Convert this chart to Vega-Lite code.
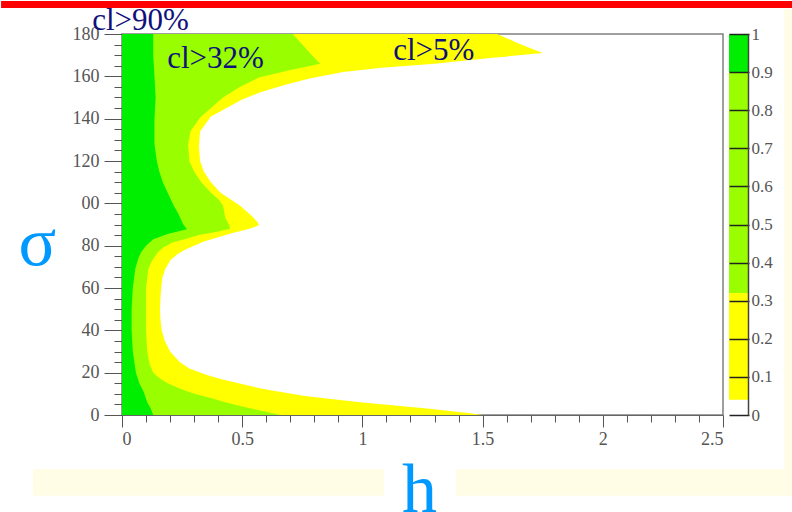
{
  "$schema": "https://vega.github.io/schema/vega-lite/v6.json",
  "padding": 0,
  "background": "white",
  "bounds": "flush",
  "spacing": 6,
  "config": {
    "view": {"stroke": "#808080", "strokeWidth": 1.5},
    "axis": {"labelFont": "Liberation Serif", "labelFontSize": 18, "labelColor": "#555555", "tickColor": "#555555", "domainColor": "#666666", "grid": false, "titleFont": "Liberation Serif", "titleFontWeight": "normal"}
  },
  "datasets": {
    "bounds": [
      {"cl":"cl>5%","sigma":0,"h":1.5},{"cl":"cl>5%","sigma":1,"h":1.44},{"cl":"cl>5%","sigma":3,"h":1.28},{"cl":"cl>5%","sigma":6,"h":0.99},{"cl":"cl>5%","sigma":9,"h":0.76},{"cl":"cl>5%","sigma":12,"h":0.6},{"cl":"cl>5%","sigma":14,"h":0.52},{"cl":"cl>5%","sigma":17,"h":0.41},{"cl":"cl>5%","sigma":19,"h":0.35},{"cl":"cl>5%","sigma":22,"h":0.28},{"cl":"cl>5%","sigma":25,"h":0.24},{"cl":"cl>5%","sigma":30,"h":0.2},{"cl":"cl>5%","sigma":35,"h":0.178},{"cl":"cl>5%","sigma":40,"h":0.165},{"cl":"cl>5%","sigma":45,"h":0.16},{"cl":"cl>5%","sigma":50,"h":0.158},{"cl":"cl>5%","sigma":55,"h":0.16},{"cl":"cl>5%","sigma":60,"h":0.163},{"cl":"cl>5%","sigma":65,"h":0.168},{"cl":"cl>5%","sigma":69,"h":0.18},{"cl":"cl>5%","sigma":73,"h":0.2},{"cl":"cl>5%","sigma":76,"h":0.23},{"cl":"cl>5%","sigma":78,"h":0.26},{"cl":"cl>5%","sigma":80,"h":0.3},{"cl":"cl>5%","sigma":82,"h":0.34},{"cl":"cl>5%","sigma":84,"h":0.4},{"cl":"cl>5%","sigma":86,"h":0.46},{"cl":"cl>5%","sigma":88,"h":0.53},{"cl":"cl>5%","sigma":89.6,"h":0.57},{"cl":"cl>5%","sigma":91,"h":0.565},{"cl":"cl>5%","sigma":94,"h":0.54},{"cl":"cl>5%","sigma":99,"h":0.49},{"cl":"cl>5%","sigma":105,"h":0.41},{"cl":"cl>5%","sigma":110,"h":0.37},{"cl":"cl>5%","sigma":115,"h":0.34},{"cl":"cl>5%","sigma":120,"h":0.325},{"cl":"cl>5%","sigma":127,"h":0.32},{"cl":"cl>5%","sigma":134,"h":0.325},{"cl":"cl>5%","sigma":141,"h":0.37},{"cl":"cl>5%","sigma":146,"h":0.45},{"cl":"cl>5%","sigma":149,"h":0.5},{"cl":"cl>5%","sigma":152.5,"h":0.575},{"cl":"cl>5%","sigma":156,"h":0.68},{"cl":"cl>5%","sigma":159,"h":0.78},{"cl":"cl>5%","sigma":162,"h":0.92},{"cl":"cl>5%","sigma":164,"h":1.08},{"cl":"cl>5%","sigma":166,"h":1.3},{"cl":"cl>5%","sigma":168.5,"h":1.52},{"cl":"cl>5%","sigma":171,"h":1.75},{"cl":"cl>5%","sigma":175,"h":1.66},{"cl":"cl>5%","sigma":180,"h":1.56},
      {"cl":"cl>32%","sigma":0,"h":0.66},{"cl":"cl>32%","sigma":2,"h":0.58},{"cl":"cl>32%","sigma":4,"h":0.5},{"cl":"cl>32%","sigma":6,"h":0.43},{"cl":"cl>32%","sigma":8,"h":0.37},{"cl":"cl>32%","sigma":10,"h":0.3},{"cl":"cl>32%","sigma":12.5,"h":0.24},{"cl":"cl>32%","sigma":15,"h":0.19},{"cl":"cl>32%","sigma":17.5,"h":0.155},{"cl":"cl>32%","sigma":20,"h":0.13},{"cl":"cl>32%","sigma":24,"h":0.115},{"cl":"cl>32%","sigma":30,"h":0.105},{"cl":"cl>32%","sigma":40,"h":0.1},{"cl":"cl>32%","sigma":50,"h":0.1},{"cl":"cl>32%","sigma":60,"h":0.1},{"cl":"cl>32%","sigma":65,"h":0.105},{"cl":"cl>32%","sigma":69,"h":0.11},{"cl":"cl>32%","sigma":73,"h":0.125},{"cl":"cl>32%","sigma":77,"h":0.15},{"cl":"cl>32%","sigma":79,"h":0.17},{"cl":"cl>32%","sigma":81.5,"h":0.21},{"cl":"cl>32%","sigma":83,"h":0.26},{"cl":"cl>32%","sigma":85,"h":0.32},{"cl":"cl>32%","sigma":86.5,"h":0.39},{"cl":"cl>32%","sigma":88,"h":0.45},{"cl":"cl>32%","sigma":90,"h":0.445},{"cl":"cl>32%","sigma":93,"h":0.43},{"cl":"cl>32%","sigma":99,"h":0.42},{"cl":"cl>32%","sigma":102,"h":0.4},{"cl":"cl>32%","sigma":105,"h":0.37},{"cl":"cl>32%","sigma":110,"h":0.33},{"cl":"cl>32%","sigma":115,"h":0.3},{"cl":"cl>32%","sigma":120,"h":0.28},{"cl":"cl>32%","sigma":128,"h":0.275},{"cl":"cl>32%","sigma":134,"h":0.285},{"cl":"cl>32%","sigma":140.5,"h":0.325},{"cl":"cl>32%","sigma":145,"h":0.37},{"cl":"cl>32%","sigma":150,"h":0.42},{"cl":"cl>32%","sigma":155,"h":0.49},{"cl":"cl>32%","sigma":159.5,"h":0.57},{"cl":"cl>32%","sigma":163,"h":0.7},{"cl":"cl>32%","sigma":166,"h":0.825},{"cl":"cl>32%","sigma":170,"h":0.79},{"cl":"cl>32%","sigma":175,"h":0.75},{"cl":"cl>32%","sigma":180,"h":0.71},
      {"cl":"cl>90%","sigma":0,"h":0.13},{"cl":"cl>90%","sigma":3,"h":0.12},{"cl":"cl>90%","sigma":6,"h":0.105},{"cl":"cl>90%","sigma":11,"h":0.09},{"cl":"cl>90%","sigma":15,"h":0.072},{"cl":"cl>90%","sigma":20,"h":0.058},{"cl":"cl>90%","sigma":30,"h":0.045},{"cl":"cl>90%","sigma":40,"h":0.04},{"cl":"cl>90%","sigma":50,"h":0.04},{"cl":"cl>90%","sigma":60,"h":0.045},{"cl":"cl>90%","sigma":69,"h":0.055},{"cl":"cl>90%","sigma":74,"h":0.068},{"cl":"cl>90%","sigma":77,"h":0.08},{"cl":"cl>90%","sigma":80,"h":0.1},{"cl":"cl>90%","sigma":83,"h":0.13},{"cl":"cl>90%","sigma":85.5,"h":0.19},{"cl":"cl>90%","sigma":87.7,"h":0.27},{"cl":"cl>90%","sigma":90,"h":0.255},{"cl":"cl>90%","sigma":95,"h":0.235},{"cl":"cl>90%","sigma":99,"h":0.215},{"cl":"cl>90%","sigma":105,"h":0.19},{"cl":"cl>90%","sigma":110,"h":0.17},{"cl":"cl>90%","sigma":115,"h":0.155},{"cl":"cl>90%","sigma":120,"h":0.145},{"cl":"cl>90%","sigma":128,"h":0.135},{"cl":"cl>90%","sigma":140,"h":0.135},{"cl":"cl>90%","sigma":150,"h":0.14},{"cl":"cl>90%","sigma":160,"h":0.135},{"cl":"cl>90%","sigma":170,"h":0.13},{"cl":"cl>90%","sigma":180,"h":0.13}
    ],
    "labels": [
      {"label": "cl>90%", "h": -0.124, "sigma": 181.9},
      {"label": "cl>32%", "h": 0.188, "sigma": 163.9},
      {"label": "cl>5%", "h": 1.128, "sigma": 167.7}
    ],
    "bar": [
      {"band": "cl>5%", "lo": 0.04, "hi": 0.32},
      {"band": "cl>32%", "lo": 0.32, "hi": 0.9},
      {"band": "cl>90%", "lo": 0.9, "hi": 1}
    ]
  },
  "hconcat": [
    {
      "width": 601,
      "height": 381,
      "resolve": {"axis": {"x": "independent", "y": "independent"}},
      "layer": [
        {
          "layer": [
            {
              "data": {"values": [{}]},
              "mark": {"type": "rect", "color": "#fffde6"},
              "encoding": {
                "x": {"datum": -0.37, "type": "quantitative", "scale": {"domain": [0, 2.5], "nice": false}},
                "x2": {"datum": 1.09},
                "y": {"datum": -25.5, "type": "quantitative", "scale": {"domain": [0, 180], "nice": false}},
                "y2": {"datum": -38.2}
              }
            },
            {
              "data": {"values": [{}]},
              "mark": {"type": "rect", "color": "#fffde6"},
              "encoding": {
                "x": {"datum": 1.389, "type": "quantitative"},
                "x2": {"datum": 2.79},
                "y": {"datum": -25.5, "type": "quantitative"},
                "y2": {"datum": -38.2}
              }
            },
            {
              "data": {"values": [{}]},
              "mark": {"type": "rect", "color": "#fffde6"},
              "encoding": {
                "x": {"datum": 2.754, "type": "quantitative"},
                "x2": {"datum": 2.79},
                "y": {"datum": 191.8, "type": "quantitative"},
                "y2": {"datum": -25.5}
              }
            },
            {
              "data": {"values": [{}]},
              "mark": {"type": "rect", "color": "#ff0000"},
              "encoding": {
                "x": {"datum": -0.503, "type": "quantitative"},
                "x2": {"datum": 2.79},
                "y": {"datum": 192.3, "type": "quantitative"},
                "y2": {"datum": 195.6}
              }
            },
            {
              "data": {"name": "bounds"},
              "transform": [{"filter": "datum.cl === 'cl>5%'"}],
              "mark": {"type": "area", "orient": "horizontal", "color": "#ffff00"},
              "encoding": {
                "y": {"field": "sigma", "type": "quantitative", "scale": {"domain": [0, 180], "nice": false},
                  "axis": {"orient": "left", "values": [0, 20, 40, 60, 80, 100, 120, 140, 160, 180], "labelExpr": "datum.value == 100 ? '00' : datum.label", "labelFont": "Liberation Serif", "labelFontSize": 18, "labelColor": "#555555", "tickSize": 18, "labelPadding": 5, "title": "σ", "titleAngle": 0, "titleAlign": "left", "titleBaseline": "alphabetic", "titleX": -104, "titleY": 230, "titleFontSize": 70, "titleColor": "#0099ff"}},
                "x": {"field": "h", "type": "quantitative", "stack": null, "scale": {"domain": [0, 2.5], "nice": false},
                  "axis": {"orient": "bottom", "values": [0, 0.5, 1, 1.5, 2, 2.5], "format": "~g", "labelFont": "Liberation Serif", "labelFontSize": 18, "labelColor": "#555555", "tickSize": 12, "labelPadding": 3, "title": "h", "titleAlign": "center", "titleBaseline": "alphabetic", "titleX": 297, "titleY": 96, "titleFontSize": 70, "titleColor": "#0099ff"}}
              }
            },
            {
              "data": {"name": "bounds"},
              "transform": [{"filter": "datum.cl === 'cl>32%'"}],
              "mark": {"type": "area", "orient": "horizontal", "color": "#99ff00"},
              "encoding": {
                "y": {"field": "sigma", "type": "quantitative"},
                "x": {"field": "h", "type": "quantitative", "stack": null}
              }
            },
            {
              "data": {"name": "bounds"},
              "transform": [{"filter": "datum.cl === 'cl>90%'"}],
              "mark": {"type": "area", "orient": "horizontal", "color": "#00ee00"},
              "encoding": {
                "y": {"field": "sigma", "type": "quantitative"},
                "x": {"field": "h", "type": "quantitative", "stack": null}
              }
            },
            {
              "data": {"name": "labels"},
              "mark": {"type": "text", "align": "left", "baseline": "alphabetic", "font": "Liberation Serif", "fontSize": 31, "color": "#10107a"},
              "encoding": {
                "y": {"field": "sigma", "type": "quantitative"},
                "x": {"field": "h", "type": "quantitative"},
                "text": {"field": "label"}
              }
            }
          ]
        },
        {
          "data": {"name": "bounds"},
          "mark": {"type": "point", "opacity": 0},
          "encoding": {
            "y": {"field": "sigma", "type": "quantitative", "scale": {"domain": [0, 180], "nice": false},
              "axis": {"orient": "left", "values": [5,10,15,25,30,35,45,50,55,65,70,75,85,90,95,105,110,115,125,130,135,145,150,155,165,170,175], "labels": false, "domain": false, "tickSize": 8, "title": null}},
            "x": {"field": "h", "type": "quantitative", "scale": {"domain": [0, 2.5], "nice": false},
              "axis": {"orient": "bottom", "values": [0.1,0.2,0.3,0.4,0.6,0.7,0.8,0.9,1.1,1.2,1.3,1.4,1.6,1.7,1.8,1.9,2.1,2.2,2.3,2.4], "labels": false, "domain": false, "tickSize": 7, "title": null}}
          }
        }
      ]
    },
    {
      "width": 19,
      "height": 381,
      "view": {"stroke": null},
      "resolve": {"axis": {"y": "independent"}},
      "layer": [
        {
          "data": {"name": "bar"},
          "mark": "rect",
          "encoding": {
            "x": {"datum": 0, "type": "quantitative", "scale": {"domain": [0, 1], "nice": false}, "axis": null},
            "x2": {"datum": 1},
            "y": {"field": "lo", "type": "quantitative", "scale": {"domain": [0, 1], "nice": false},
              "axis": {"orient": "right", "offset": -19, "zindex": 2, "values": [0, 0.1, 0.2, 0.3, 0.4, 0.5, 0.6, 0.7, 0.8, 0.9, 1], "format": "~g", "labelFont": "Liberation Serif", "labelColor": "#555555", "labelFontSize": 17, "tickSize": 20, "labelPadding": 2, "tickColor": "#222222", "tickWidth": 1.5, "domain": false, "title": null}},
            "y2": {"field": "hi"},
            "color": {"field": "band", "type": "nominal", "scale": {"domain": ["cl>5%", "cl>32%", "cl>90%"], "range": ["#ffff00", "#99ff00", "#00ee00"]}, "legend": null}
          }
        },
        {
          "data": {"name": "bar"},
          "mark": {"type": "rect", "opacity": 0},
          "encoding": {
            "x": {"datum": 0, "type": "quantitative", "axis": null},
            "x2": {"datum": 1},
            "y": {"field": "lo", "type": "quantitative", "scale": {"domain": [0, 1], "nice": false},
              "axis": {"orient": "right", "zindex": 2, "values": [], "ticks": false, "labels": false, "domain": true, "domainColor": "#444444", "domainWidth": 1.5, "title": null}},
            "y2": {"field": "hi"}
          }
        }
      ]
    }
  ]
}
